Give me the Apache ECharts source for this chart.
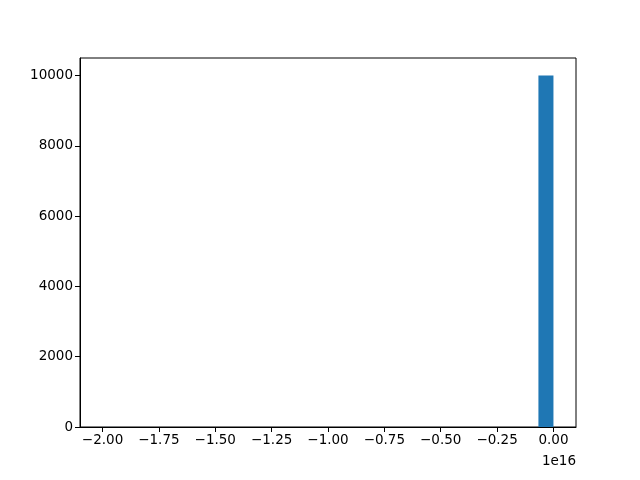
<!DOCTYPE html>
<html>
<head>
<meta charset="utf-8">
<script src="https://cdn.jsdelivr.net/npm/echarts@6/dist/echarts.min.js"></script>
<style>html,body{margin:0;padding:0;background:#fff;}#c{width:640px;height:480px;}</style>
</head>
<body>
<div id="c"></div>
<script>
// Histogram: 30 bins from -2e16 to 0 (values in units of 1e16)
const binStart = -2.0;
const binEnd = 0.0;
const binCount = 30;
const counts = [1,0,0,0,0,0,0,0,0,0,0,0,0,0,0,0,0,0,0,0,0,0,0,0,0,0,0,0,0,9999];
const xTicks = [-2.0,-1.75,-1.5,-1.25,-1.0,-0.75,-0.5,-0.25,0.0];
const yTicks = [0,2000,4000,6000,8000,10000];
const offsetText = '1e16';

const w = (binEnd - binStart) / binCount;
const bins = counts.map((c, i) => [binStart + i * w, binStart + (i + 1) * w, c]);

const font = 'DejaVu Sans';
const chart = echarts.init(document.getElementById('c'), null, {renderer: 'canvas'});
chart.setOption({
  animation: false,
  grid: {left: 80, right: 64, top: 58, bottom: 53, show: true, borderColor: '#000', borderWidth: 1, backgroundColor: 'transparent'},
  xAxis: {
    type: 'value', min: -2.1, max: 0.1,
    splitLine: {show: false},
    axisLine: {show: true, onZero: false, lineStyle: {color: '#000', width: 1}},
    axisTick: {show: true, length: 5, lineStyle: {color: '#000'}, customValues: xTicks},
    axisLabel: {customValues: xTicks, color: '#000', fontFamily: font, fontSize: 13.5, margin: 6,
      formatter: v => (v < 0 ? '\u2212' : '') + Math.abs(v).toFixed(2)}
  },
  yAxis: {
    type: 'value', min: 0, max: 10500,
    splitLine: {show: false},
    axisLine: {show: true, onZero: false, lineStyle: {color: '#000', width: 1}},
    axisTick: {show: true, length: 5, lineStyle: {color: '#000'}, customValues: yTicks},
    axisLabel: {customValues: yTicks, color: '#000', fontFamily: font, fontSize: 13.5, margin: 7,
      formatter: v => String(v)}
  },
  graphic: [{
    type: 'text', right: 64, top: 454,
    style: {text: offsetText, fill: '#000', font: '13.5px "DejaVu Sans"', textAlign: 'right'}
  }],
  series: [{
    type: 'custom',
    data: bins,
    encode: {x: [0, 1], y: 2},
    renderItem: function (params, api) {
      const p0 = api.coord([api.value(0), 0]);
      const p1 = api.coord([api.value(1), api.value(2)]);
      return {
        type: 'rect',
        shape: {x: p0[0], y: p1[1], width: p1[0] - p0[0], height: p0[1] - p1[1]},
        style: {fill: '#1f77b4'}
      };
    }
  }]
});
</script>
</body>
</html>
